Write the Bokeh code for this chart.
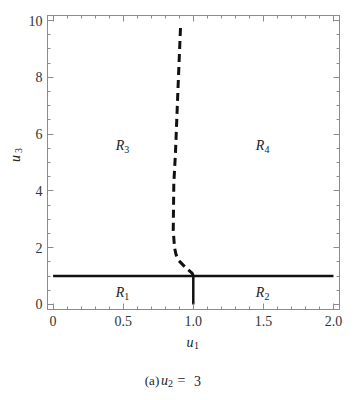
import math
from bokeh.plotting import figure
from bokeh.models import Label, LinearAxis, FixedTicker, ColumnDataSource
from bokeh.core.properties import value
from bokeh.embed import file_html
from bokeh.resources import INLINE

# ---- data ----
x_ticks = [0, 0.5, 1.0, 1.5, 2.0]
x_tick_labels = ["0", "0.5", "1.0", "1.5", "2.0"]
x_minor = [0.1 * i for i in range(21)]
y_ticks = [0, 2, 4, 6, 8, 10]
y_tick_labels = ["0", "2", "4", "6", "8", "10"]
y_minor = [0.5 * i for i in range(21)]

hline_u1 = [0.0, 2.0]
hline_u3 = [1.0, 1.0]
vline_u1 = [1.0, 1.0]
vline_u3 = [0.0, 1.0]

curve_u1 = [1.0, 0.993, 0.945, 0.895, 0.877, 0.866, 0.857, 0.861, 0.873, 0.890, 0.909]
curve_u3 = [1.0, 1.09, 1.30, 1.55, 1.75, 2.01, 2.61, 4.26, 5.35, 7.5, 9.78]

region_base = ["R", "R", "R", "R"]
region_sub = ["1", "2", "3", "4"]
region_u1 = [0.5, 1.5, 0.5, 1.5]
region_u3 = [0.42, 0.42, 5.6, 5.6]

FRAME = "#8c8c8c"
TXT = "#333333"
SERIF = "Liberation Serif"

p = figure(width=362, height=400, x_range=(-0.04, 2.043), y_range=(-0.18, 10.18),
           output_backend="svg", toolbar_location=None,
           min_border_left=47, min_border_right=23, min_border_top=15, min_border_bottom=91,
           x_axis_location=None, y_axis_location=None)
p.grid.visible = False
p.outline_line_color = FRAME
p.background_fill_color = "white"
p.border_fill_color = "white"


def style_axis(ax, ticks, minor, labels, show_labels):
    ax.ticker = FixedTicker(ticks=ticks, minor_ticks=minor)
    ax.axis_line_color = FRAME
    ax.major_tick_line_color = FRAME
    ax.minor_tick_line_color = FRAME
    ax.major_tick_in = 6
    ax.major_tick_out = 0
    ax.minor_tick_in = 3
    ax.minor_tick_out = 0
    ax.major_label_text_font = SERIF
    ax.major_label_text_color = TXT
    ax.major_label_text_font_size = "14px"
    if show_labels:
        ax.major_label_overrides = {t: l for t, l in zip(ticks, labels)}
    else:
        ax.major_label_overrides = {t: "" for t in ticks}
        ax.major_label_standoff = 0


bx = LinearAxis()
style_axis(bx, x_ticks, x_minor, x_tick_labels, True)
bx.major_label_standoff = 6
p.add_layout(bx, "below")
tx = LinearAxis()
style_axis(tx, x_ticks, x_minor, x_tick_labels, False)
p.add_layout(tx, "above")
ly = LinearAxis()
style_axis(ly, y_ticks, y_minor, y_tick_labels, True)
ly.major_label_standoff = 5
p.add_layout(ly, "left")
ry = LinearAxis()
style_axis(ry, y_ticks, y_minor, y_tick_labels, False)
p.add_layout(ry, "right")

p.line(hline_u1, hline_u3, line_color="#111111", line_width=2.5)
p.line(vline_u1, vline_u3, line_color="#111111", line_width=2.5)
p.line(curve_u1, curve_u3, line_color="#111111", line_width=3, line_dash="8 5")

src = ColumnDataSource(dict(x=region_u1, y=region_u3, base=region_base, sub=region_sub))
p.text(x="x", y="y", text="base", source=src, text_font=value(SERIF), text_font_style="italic",
       text_font_size="14px", text_color="#222222", text_align="right", text_baseline="middle",
       x_offset=1)
p.text(x="x", y="y", text="sub", source=src, text_font=value(SERIF),
       text_font_size="10px", text_color="#222222", text_align="left", text_baseline="middle",
       x_offset=1, y_offset=4)


# labels outside the frame, in canvas pixels; spread over side panels so the
# panels' summed sizes stay inside the borders and the frame keeps its size
def lab(side, x, y, t, size, italic=False, angle=0, align="center", color="#222222"):
    p.add_layout(Label(x=x, y=y, x_units="canvas", y_units="canvas", text=t,
                       text_font=SERIF, text_font_size=size,
                       text_font_style="italic" if italic else "normal", text_color=color,
                       text_align=align, text_baseline="middle", angle=angle), side)


lab("below", 186, 342, "u", "14px", italic=True, align="left")
lab("right", 193.5, 345, "1", "10px", align="left")
lab("left", 15, 158, "u", "14px", italic=True, angle=math.pi / 2)
lab("left", 18, 150, "3", "10px", angle=math.pi / 2)

# caption
CAP = "#1c1c2a"
lab("below", 151.5, 380, "(a)", "13px", color=CAP)
lab("below", 164, 380, "u", "14px", italic=True, color=CAP)
lab("right", 170, 383, "2", "10px", color=CAP)
lab("below", 181, 380, "=", "14px", color=CAP)
lab("below", 197, 380, "3", "14px", color=CAP)

open("out.html", "w").write(file_html(p, INLINE))
